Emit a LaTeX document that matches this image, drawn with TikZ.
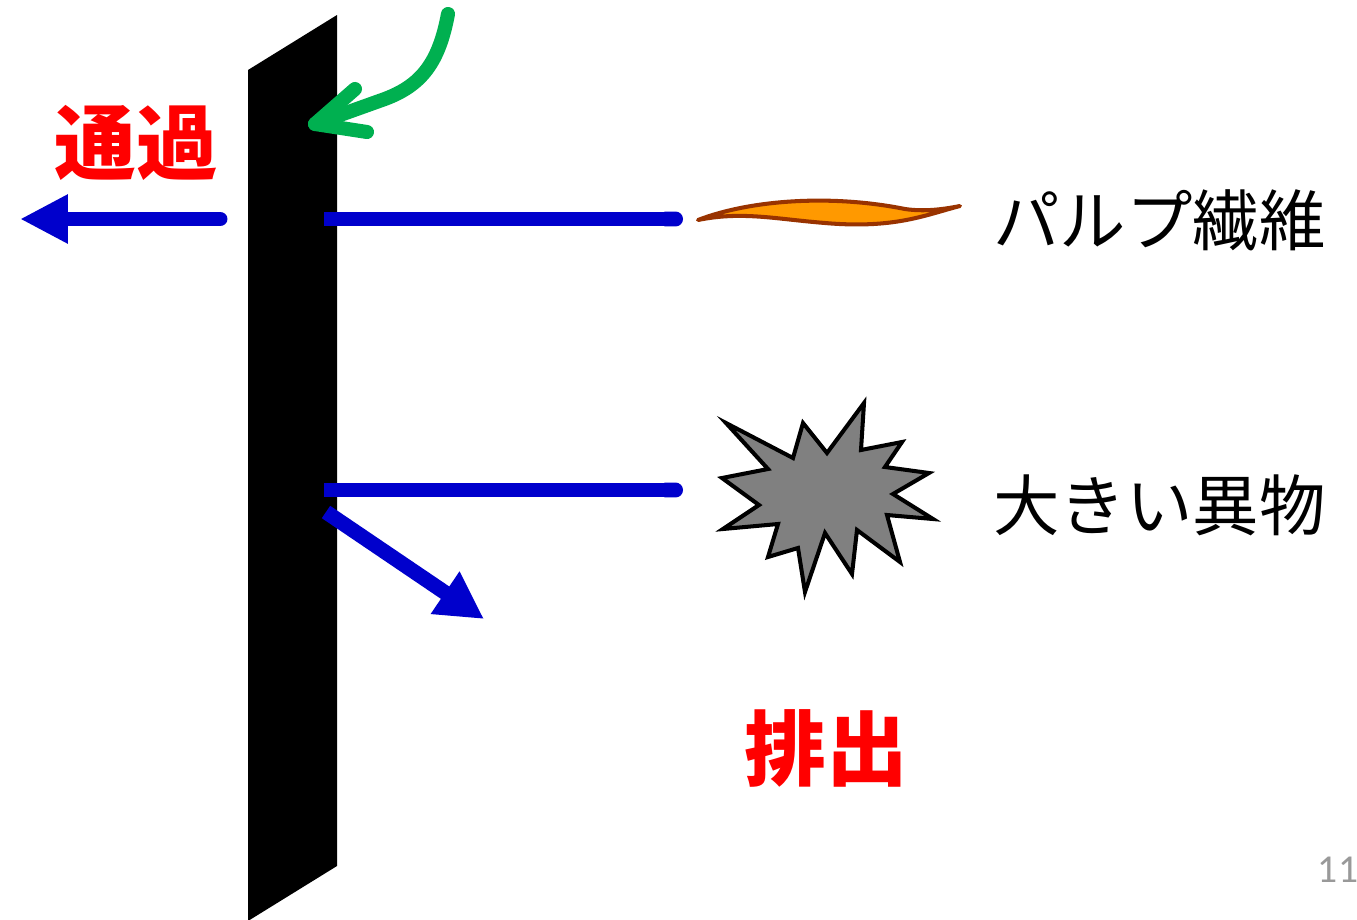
\documentclass[tikz,border=0pt]{standalone}
\usepackage{fontspec}
\newfontfamily\cjk{Noto Sans CJK JP}
\newfontfamily\pagefont{Carlito}
\usetikzlibrary{arrows.meta}
\definecolor{flowblue}{HTML}{0000CC}
\definecolor{feedgreen}{HTML}{00B050}
\definecolor{labelred}{HTML}{FF0000}
\definecolor{fiberfill}{HTML}{FF9900}
\definecolor{fiberedge}{HTML}{993300}
\definecolor{debris}{HTML}{808080}
\definecolor{pagegray}{HTML}{999999}
\tikzset{
  flow/.style={draw=flowblue, line width=8.5pt},
  feed/.style={draw=feedgreen, line width=8pt, line cap=round, line join=round},
  redlabel/.style={text=labelred, font=\cjk\bfseries\fontsize{46.5pt}{50pt}\selectfont, inner sep=0pt},
  itemlabel/.style={text=black, font=\cjk\fontsize{37.8pt}{40pt}\selectfont, inner sep=0pt, anchor=west},
}
\begin{document}
\begin{tikzpicture}[x=0.02cm, y=-0.02cm]
\useasboundingbox (0,0) rectangle (1357,920);
\fill[white] (0,0) rectangle (1357,920);

% screen plate
\fill[black] (248,70) -- (337,15) -- (337,866) -- (248,921) -- cycle;

% incoming feed (green)
\coordinate (feedstart) at (448,14);
\coordinate (feedtip) at (315,124);
\draw[feed] (feedstart) .. controls (439,62) and (422,86) .. (382,100) -- (feedtip);
\draw[feed] (355,89) -- (feedtip) -- (367,132);

% accepted flow through the screen
\coordinate (passstart) at (220,219);
\coordinate (passend) at (20,219);
\draw[flow, line cap=round, -{Triangle[length=0.96cm, width=0.92cm]}] (passstart) -- (passend);

% fibre approaching the screen
\coordinate (fiberlinestart) at (324,219);
\coordinate (fiberline) at (683,219);
\draw[flow, line cap=butt, -{Round Cap}] (fiberlinestart) -- (fiberline);

% debris approaching and being rejected
\coordinate (debrislinestart) at (324,490);
\coordinate (debrisline) at (683,490);
\draw[flow, line cap=butt, -{Round Cap}] (debrislinestart) -- (debrisline);
\coordinate (rejstart) at (326,512);
\coordinate (rejend) at (484,619);
\draw[flow, line cap=butt, -{Triangle[length=0.94cm, width=0.96cm]}] (rejstart) -- (rejend);

% pulp fibre
\draw[fill=fiberfill, draw=fiberedge, line width=2.3pt, line join=round]
  (698,220) .. controls (750,200) and (830,194) .. (905,209)
  .. controls (925,212) and (945,209) .. (960,206)
  .. controls (925,215) and (895,229) .. (825,223)
  .. controls (775,219) and (742,211) .. cycle;

% large foreign matter
\draw[fill=debris, draw=black, line width=2.3pt, line join=miter]
  (864,403) -- (861,450) -- (902,442) -- (885,467) -- (929,473) -- (893,494)
  -- (933,519) -- (887,515) -- (900,562) -- (857,530) -- (852,574) -- (825,533)
  -- (805,592) -- (798,548) -- (768,557) -- (778,524) -- (723,529) -- (759,505)
  -- (722,478) -- (768,469) -- (726,423) -- (793,458) -- (803,423) -- (827,453)
  -- cycle;

% labels
\node[redlabel] (pass) at (136,143) {通過};
\node[redlabel] (reject) at (826,748) {排出};
\node[itemlabel] (fiber) at (993,220) {パルプ繊維};
\node[itemlabel] (foreign) at (993,505) {大きい異物};
\node[text=pagegray, font=\pagefont\fontsize{22.5pt}{24pt}\selectfont, inner sep=0pt] (pageno) at (1338,870) {11};
\end{tikzpicture}
\end{document}
